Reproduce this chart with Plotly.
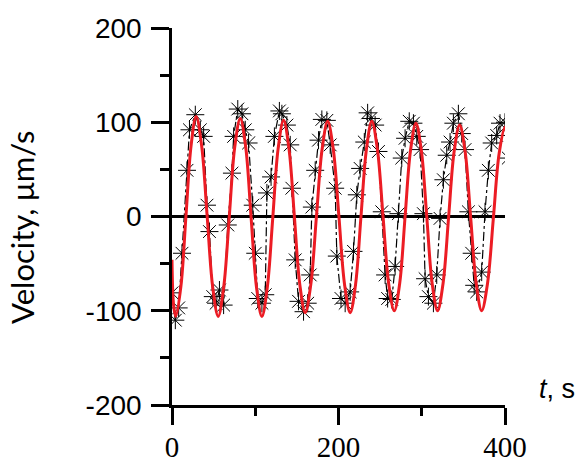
import plotly.graph_objects as go

# ---- data ----
black_t = [0, 4, 8, 12, 18, 21, 28, 34, 38, 42, 45, 49, 53, 57, 62, 67, 72, 74, 79, 84,
           88, 92, 97, 100, 103, 108, 112, 114, 119, 123, 129, 132, 138, 142, 144, 148,
           152, 158, 163, 166, 168, 172, 176, 180, 186, 190, 196, 198, 203, 208, 214,
           218, 222, 226, 231, 235, 239, 244, 248, 252, 256, 259, 264, 268, 272, 276,
           280, 285, 290, 294, 298, 302, 304, 308, 314, 318, 322, 326, 330, 334, 338,
           344, 348, 352, 356, 360, 363, 366, 372, 376, 380, 384, 390, 394, 400, 404]
black_v = [-81, -110, -97, -39, 49, 92, 108, 92, 85, 12, -16, -85, -92, -78, -94, -9, 46, 85, 114, 109,
           92, 78, 12, -39, -87, -92, -83, 25, 42, 85, 112, 109, 97, 76, 30, -46,
           -90, -101, -92, -62, 10, 49, 81, 103, 102, 76, 30, -42, -87, -92, -80,
           -37, 23, 51, 79, 110, 104, 97, 69, 5, -62, -87, -88, -53, 3, 62,
           83, 101, 99, 85, 71, 3, -66, -85, -92, -62, -2, 39, 65, 79, 99,
           109, 88, 71, 5, -39, -73, -80, -59, 5, 49, 78, 86, 99, 100, 62]

red_t = [0, 2, 4.5, 10.6, 16.75, 22.9, 29, 35.6, 42.25, 48.9, 55.5, 62.1, 68.75, 75.4, 82,
         88.5, 95, 101.5, 108, 114.5, 121, 127.5, 134, 140.5, 147, 153.5, 160, 166.75,
         173.5, 180.25, 187, 193.75, 200.5, 207.25, 214, 220.5, 227, 233.5, 240, 246.75,
         253.5, 260.25, 267, 273.5, 280, 286.5, 293, 299.5, 306, 312.5, 319, 325.6,
         332.25, 338.9, 345.5, 352.1, 358.75, 365.4, 372, 379, 386, 393, 400, 404]
red_v = [-46, -95, -106, -75, 0, 75, 106, 75, 0, -75, -106, -75, -1, 74, 104,
         74, -1, -75, -106, -75, -2, 72, 102, 72, 0, -72, -102, -72,
         0, 71, 101, 71, 0, -72, -102, -72, 0, 71, 101, 71,
         0, -71, -100, -71, 0, 70, 99, 70, 0, -71, -100, -71,
         -1, 69, 97, 69, -1, -71, -100, -71, -2, 67, 95, 70]

x_tick_vals = [0, 200, 400]
x_tick_text = ["0", "200", "400"]
x_minor_vals = [100, 300]
y_tick_vals = [-200, -100, 0, 100, 200]
y_tick_text = ["-200", "-100", "0", "100", "200"]
y_minor_vals = [-150, -50, 50, 150]

y_title = "Velocity, μm/s"
x_title = "<i>t</i>, s"

fig = go.Figure()
fig.add_trace(go.Scatter(
    x=black_t, y=black_v, mode="lines+markers",
    line=dict(color="black", width=1.2, dash="dashdot"),
    marker=dict(symbol="asterisk-open", size=15, color="black",
                line=dict(color="black", width=1)),
    showlegend=False))
fig.add_trace(go.Scatter(
    x=red_t, y=red_v, mode="lines",
    line=dict(color="rgb(236,28,36)", width=3, shape="spline", smoothing=1.0),
    showlegend=False))

fig.update_layout(
    width=582, height=462, autosize=False,
    margin=dict(l=172, r=77, t=28, b=57),
    paper_bgcolor="white", plot_bgcolor="white",
    xaxis=dict(range=[0, 400], tickvals=x_tick_vals, ticktext=x_tick_text,
               automargin=False, ticklabelstandoff=-3,
               showline=True, linecolor="black", linewidth=2.5,
               ticks="outside", ticklen=17, tickwidth=2.5, tickcolor="black",
               minor=dict(tickvals=x_minor_vals, ticks="outside", ticklen=8,
                          tickwidth=2.5, tickcolor="black"),
               showgrid=False, zeroline=False,
               tickfont=dict(family="Liberation Serif", size=29, color="black")),
    yaxis=dict(range=[-200, 200], tickvals=y_tick_vals, ticktext=y_tick_text,
               automargin=False, ticklabelstandoff=4,
               showline=True, linecolor="black", linewidth=2.5,
               ticks="outside", ticklen=18, tickwidth=2.5, tickcolor="black",
               minor=dict(tickvals=y_minor_vals, ticks="outside", ticklen=9,
                          tickwidth=2.5, tickcolor="black"),
               showgrid=False, zeroline=True, zerolinecolor="black", zerolinewidth=3,
               tickfont=dict(family="Liberation Sans", size=28, color="black")),
    annotations=[
        dict(text=y_title, textangle=-90, xref="paper", yref="paper",
             x=-0.45, y=0.47, xanchor="center", yanchor="middle", showarrow=False,
             font=dict(family="Lato", size=31, color="black")),
        dict(text=x_title, xref="paper", yref="paper",
             x=1.095, y=0.042, xanchor="left", yanchor="middle", showarrow=False,
             font=dict(family="Liberation Sans", size=27, color="black")),
    ],
)

fig.write_html("out.html")
